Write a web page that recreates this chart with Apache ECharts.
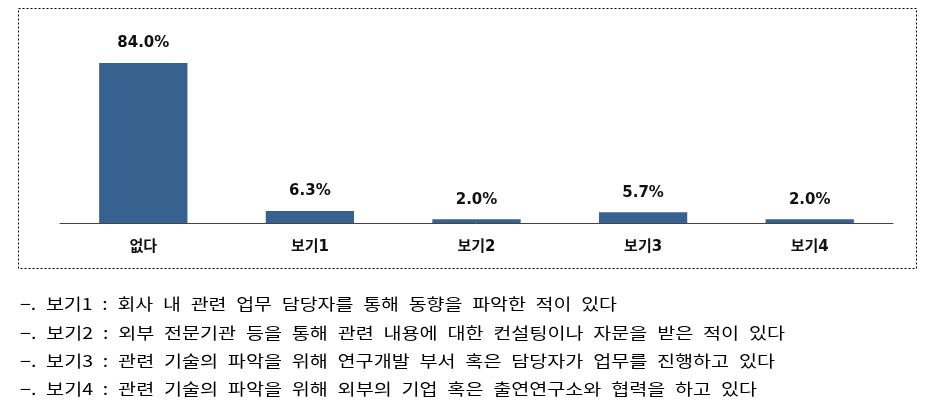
<!DOCTYPE html>
<html><head><meta charset="utf-8">
<script src="https://cdn.jsdelivr.net/npm/echarts@6/dist/echarts.min.js"></script>
<style>html,body{margin:0;padding:0;background:#fff}#c{width:945px;height:406px}</style>
</head><body><div id="c"></div>
<script>
const categories = ['없다', '보기1', '보기2', '보기3', '보기4'];
const values = [84.0, 6.3, 2.0, 5.7, 2.0];
const notes = [
  '−. 보기1 : 회사 내 관련 업무 담당자를 통해 동향을 파악한 적이 있다',
  '−. 보기2 : 외부 전문기관 등을 통해 관련 내용에 대한 컨설팅이나 자문을 받은 적이 있다',
  '−. 보기3 : 관련 기술의 파악을 위해 연구개발 부서 혹은 담당자가 업무를 진행하고 있다',
  '−. 보기4 : 관련 기술의 파악을 위해 외부의 기업 혹은 출연연구소와 협력을 하고 있다'
];
const noteY = [304, 333, 361, 389];
const noteRight = [617, 785, 775, 757];
const noteFont = '16px "Noto Sans CJK KR"';
const ctx = document.createElement('canvas').getContext('2d');
ctx.font = noteFont;
const noteText = notes.map(t => t.replace(/ /g, '\u2002'));

const chart = echarts.init(document.getElementById('c'));
const lblFont = '"DejaVu Sans","Noto Sans CJK KR"';
chart.setOption({
  animation: false,
  grid: {left: 60, right: 52, top: 32.5, bottom: 183},
  xAxis: {
    type: 'category', data: categories,
    axisLine: {lineStyle: {color: '#444', width: 1}},
    axisTick: {show: false},
    axisLabel: {margin: 17, fontSize: 15, fontWeight: 'bold', color: '#111', fontFamily: lblFont}
  },
  yAxis: {type: 'value', min: 0, max: 100, show: false, splitLine: {show: false}},
  series: [{
    type: 'bar', data: values, barWidth: '53%',
    itemStyle: {color: '#37618F'},
    label: {show: true, position: 'top', distance: 12, fontSize: 15, fontWeight: 'bold', color: '#111',
      fontFamily: lblFont, formatter: p => p.value.toFixed(1) + '%'}
  }],
  graphic: [
    {type: 'rect', shape: {x: 18.5, y: 8.5, width: 898, height: 260}, style: {fill: 'none', stroke: '#000', lineWidth: 1, lineDash: [2, 2]}, silent: true},
    ...noteText.map((t, i) => {
      const w = ctx.measureText(t).width;
      return {type: 'text', x: 20, y: noteY[i], scaleX: (noteRight[i] - 20) / w,
        style: {text: t, font: noteFont, fill: '#000', verticalAlign: 'middle', align: 'left'}};
    })
  ]
});
</script></body></html>
